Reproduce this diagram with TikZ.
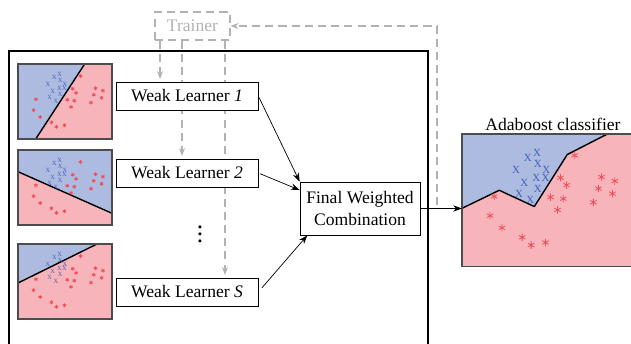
\documentclass[tikz,border=0pt]{standalone}
\usepackage{fontspec}
\setmainfont{Liberation Serif}
\usetikzlibrary{arrows.meta,plotmarks,backgrounds}

\definecolor{clsblue}{RGB}{174,187,225}
\definecolor{clsred}{RGB}{247,180,187}
\definecolor{ptblue}{RGB}{62,96,184}
\definecolor{ptred}{RGB}{238,78,90}
\definecolor{feedgray}{RGB}{178,178,178}

\tikzset{
  learner/.style={draw, fill=white, minimum width=2.84cm, minimum height=0.56cm, inner sep=0pt},
  gapdash/.style={dash pattern=on 4.6pt off 2.9pt, line width=0.6pt},
  feed/.style={feedgray, gapdash, -{Stealth[length=4.5pt,width=3.4pt]}},
  vote/.style={-{Stealth[length=5pt,width=3.6pt]}},
  boundary/.style={line width=0.8pt, line join=round},
  plotframe/.style={draw=black!70, line width=0.6pt},
}

% training set drawn in frame units (94 x 75), #1 = letter size, #2 = mark size
\newcommand{\trainpts}[2]{%
  \foreach \px/\py [count=\i] in {41.7/10.8, 36.5/13.5, 42.1/16.9, 30/20.2, 46.9/20.2,
      41.3/24.7, 46.4/24.7, 34.6/27.6, 42.1/30.8, 31.7/33.7, 38/37.2}
    \node[text=ptblue, inner sep=0pt, font=\fontsize{#1}{#1}\selectfont] (xm\i) at (\px,\py) {X};
  \draw[ptred, line width=0.45pt] plot[only marks, mark=asterisk, mark size=#2] coordinates {
    (62.6,12.1) (54.7,24.7) (58.1,28.9) (77.5,24.3) (84.9,26.6) (75.8,30.8)
    (83.6,33.7) (49.2,35.7) (56.3,36.6) (73,38.6) (53.1,42.9) (17.9,35.3)
    (15.6,46.2) (22.2,53) (33.4,58.4) (38.4,62.8) (46.4,61.3)};
}

\begin{document}
\begin{tikzpicture}[x=0.02cm, y=-0.02cm, thin]
  \useasboundingbox (0,0) rectangle (631,344);
  \clip (0,0) rectangle (631,344);

  % boosting frame
  \draw[line width=1.2pt] (9,51) rectangle (428,370);

  % weak learners and the combiner
  \node[learner] (wl1) at (187,96) {Weak Learner \textit{1}};
  \node[learner] (wl2) at (187,173) {Weak Learner \textit{2}};
  \node[learner] (wlS) at (187,292) {Weak Learner \textit{S}};
  \node[font=\Large] (dots) at (200,229) {$\vdots$};
  \node[draw, align=center, minimum width=2.4cm, minimum height=1.06cm, inner sep=0pt] (fwc) at (360,208.5) {Final Weighted\\Combination};

  \draw[vote, shorten <=1pt] (wl1.east) -- (fwc.north west);
  \draw[vote, shorten <=1pt] (wl2.east) -- (fwc.163);
  \draw[vote, shorten <=3pt] (wlS.east) -- (fwc.207);

  % trainer feeding the learners
  \node[draw=feedgray, gapdash, text=feedgray, minimum width=1.5cm, minimum height=0.56cm] (trainer) at (192.5,26) {Trainer};
  \coordinate (f1) at (160,0);
  \coordinate (f2) at (182,0);
  \coordinate (f3) at (225,0);
  \coordinate (tap) at (437,0);
  \begin{scope}[on background layer]
    \draw[feed, shorten >=1.5pt] (trainer.south -| f1) -- (wl1.north -| f1);
    \draw[feed, shorten >=1.5pt] (trainer.south -| f2) -- (wl2.north -| f2);
    \draw[feed, shorten >=1.5pt] (trainer.south -| f3) -- (wlS.north -| f3);
  \end{scope}

  % stage 1
  \begin{scope}[shift={(18,64)}]
    \fill[clsred] (0,0) rectangle (94,75);
    \fill[clsblue] (0,0) -- (66.7,0) -- (17.7,75) -- (0,75) -- cycle;
    \draw[boundary] (66.7,0) -- (17.7,75);
    \trainpts{3.6}{1.1pt}
    \draw[plotframe] (0,0) rectangle (94,75);
  \end{scope}

  % stage 2
  \begin{scope}[shift={(18,150)}]
    \fill[clsred] (0,0) rectangle (94,75);
    \fill[clsblue] (0,0) -- (94,0) -- (94,63.3) -- (0,21.7) -- cycle;
    \draw[boundary] (0,21.7) -- (94,63.3);
    \trainpts{3.6}{1.1pt}
    \draw[plotframe] (0,0) rectangle (94,75);
  \end{scope}

  % stage S
  \begin{scope}[shift={(18,244)}]
    \fill[clsred] (0,0) rectangle (94,75);
    \fill[clsblue] (0,0) -- (79,0) -- (0,39) -- cycle;
    \draw[boundary] (0,39) -- (79,0);
    \trainpts{3.6}{1.1pt}
    \draw[plotframe] (0,0) rectangle (94,75);
  \end{scope}

  % final classifier
  \node[inner sep=0pt, minimum width=3.5cm, minimum height=2.655cm, anchor=north west] (cls) at (462,134) {};
  \begin{scope}[shift={(462,134)}, x=0.036cm, y=-0.0354cm]
    \fill[clsred] (0,0) rectangle (97,75);
    \fill[clsblue] (0,0) -- (80.8,0) -- (58.5,11.6) -- (40.2,41) -- (20.7,31.8) -- (0,42) -- cycle;
    \draw[boundary] (0,42) -- (20.7,31.8) -- (40.2,41) -- (58.5,11.6) -- (80.8,0);
    \trainpts{6.2}{2.1pt}
    \draw[plotframe] (0,0) rectangle (97,75);
  \end{scope}
  \node (clstitle) at (553,124) {Adaboost classifier};

  % output and feedback to the trainer
  \draw[vote] (fwc.east) -- (fwc.east -| cls.west);
  \draw[feed] ([yshift=2pt]fwc.east -| tap) |- (trainer.east);
\end{tikzpicture}
\end{document}
